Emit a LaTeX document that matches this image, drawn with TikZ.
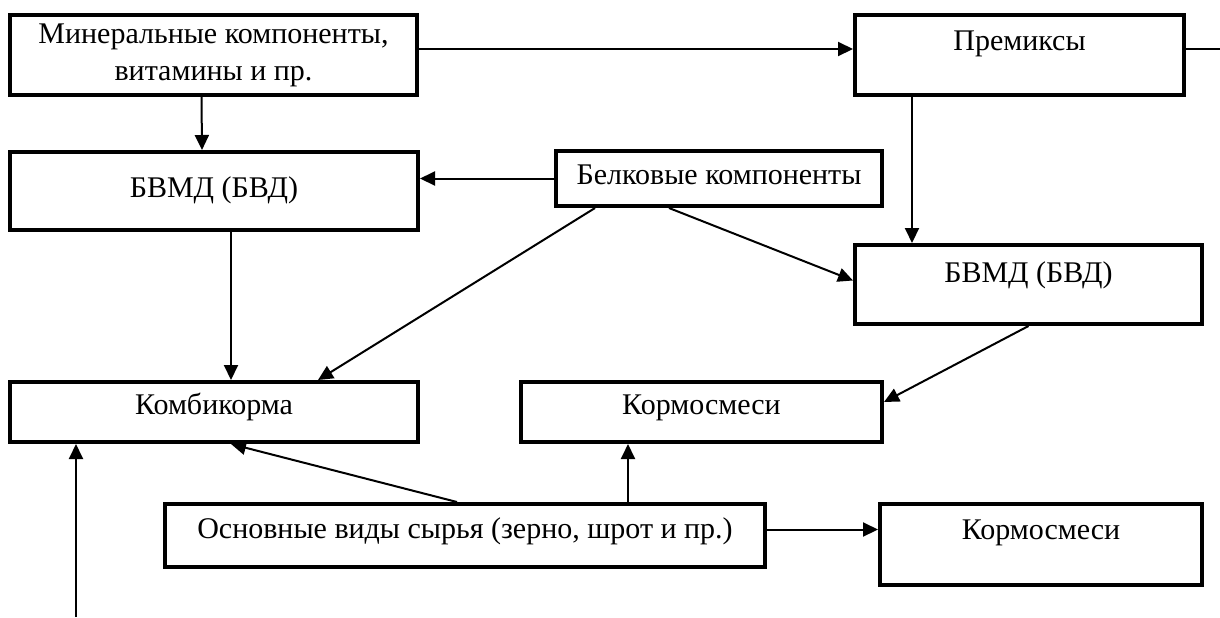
\documentclass[tikz,border=0pt]{standalone}
\usepackage{fontspec}
\setmainfont{Liberation Serif}
\usetikzlibrary{arrows.meta}
\tikzset{
	blok/.style={draw, line width=2pt, inner sep=0pt, anchor=north west, align=center, font=\fontsize{15}{18.5}\selectfont},
	svyaz/.style={line width=1pt}
}
\begin{document}
\begin{tikzpicture}[x=0.5pt, y=-0.5pt, >={Triangle[length=7.5pt,width=7pt]}]
		\useasboundingbox (0,0) rectangle (1220,617);
		\node[blok, minimum width=203.5pt, minimum height=40pt] (miner) at (8,13) {Минеральные компоненты,\\витамины и пр.};
		\node[blok, minimum width=164.5pt, text height=17.5pt, text depth=22.5pt] (premix) at (853,13) {Премиксы};
		\node[blok, minimum width=204pt, text height=22.5pt, text depth=16.5pt] (bvmdA) at (8,150) {БВМД (БВД)};
		\node[blok, minimum width=163pt, text height=16.5pt, text depth=11pt] (belok) at (554,149) {Белковые компоненты};
		\node[blok, minimum width=173.5pt, text height=18.5pt, text depth=21pt] (bvmdB) at (853,243) {БВМД (БВД)};
		\node[blok, minimum width=204pt, text height=16pt, text depth=14pt] (kombi) at (8,380) {Комбикорма};
		\node[blok, minimum width=180.5pt, text height=16pt, text depth=14pt] (kormA) at (519,380) {Кормосмеси};
		\node[blok, minimum width=300pt, text height=17pt, text depth=14.5pt] (osnov) at (163,502) {Основные виды сырья (зерно, шрот и пр.)};
		\node[blok, minimum width=161pt, text height=17.5pt, text depth=23pt] (kormB) at (878,502) {Кормосмеси};
		\coordinate (vyhod) at (1220,47);
		\coordinate (vhod) at (76,617);
		\coordinate (p1) at ([xshift=29.5pt]premix.south west);
		\coordinate (p2) at ([xshift=232.5pt]osnov.north west);
		\draw[svyaz, ->] ([yshift=3pt]miner.east) -- ([yshift=3pt]premix.west);
		\draw[svyaz] ([yshift=3pt]premix.east) -- ([yshift=3pt]premix.east -| vyhod);
		\draw[svyaz, ->] ([xshift=-6pt]miner.south) -- ([xshift=-6pt]bvmdA.north);
		\draw[svyaz, ->] (belok.west) -- (belok.west -| bvmdA.east);
		\draw[svyaz, ->] (p1) -- (p1 |- bvmdB.north);
		\draw[svyaz, ->] ([xshift=-25pt]belok.south) -- ([yshift=2pt]bvmdB.west);
		\draw[svyaz, ->] ([xshift=20.5pt]belok.south west) -- ([xshift=155pt]kombi.north west);
		\draw[svyaz, ->] ([xshift=8.5pt]bvmdA.south) -- ([xshift=8.5pt]kombi.north);
		\draw[svyaz, ->] (bvmdB.south) -- ([yshift=5pt]kormA.east);
		\draw[svyaz, ->] (p2) -- (p2 |- kormA.south);
		\draw[svyaz, ->] ([xshift=-4pt]osnov.north) -- ([xshift=8.5pt]kombi.south);
		\draw[svyaz, ->] ([yshift=3pt]osnov.east) -- ([yshift=3pt]osnov.east -| kormB.west);
		\draw[svyaz, ->] (vhod) -- (vhod |- kombi.south);
	\end{tikzpicture}
\end{document}
